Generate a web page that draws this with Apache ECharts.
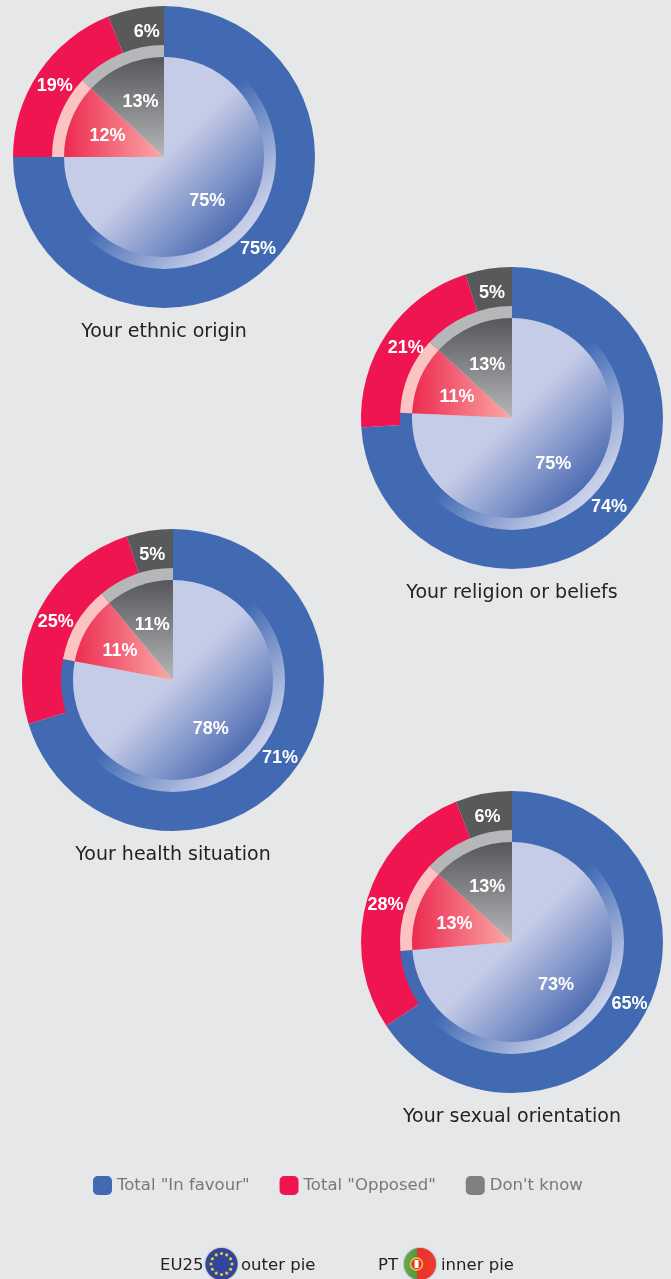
<!DOCTYPE html>
<html>
<head>
<meta charset="utf-8">
<title>Pies</title>
<script src="https://cdn.jsdelivr.net/npm/echarts@6/dist/echarts.min.js"></script>
<style>
  html, body { margin: 0; padding: 0; background: #e5e7e9; }
  #chart { width: 671px; height: 1279px; }
</style>
</head>
<body>
<div id="chart"></div>
<script>
const categories = ['Total "In favour"', 'Total "Opposed"', "Don't know"];
const topics = ['Your ethnic origin', 'Your religion or beliefs', 'Your health situation', 'Your sexual orientation'];
const outerEU25 = [
  [75, 19, 6],
  [74, 21, 5],
  [71, 25, 5],
  [65, 28, 6]
];
const innerPT = [
  [75, 12, 13],
  [75, 11, 13],
  [78, 11, 11],
  [73, 13, 13]
];

const centers = [[164, 157], [512, 418], [173, 680], [512, 942]];
// the labels were placed by hand in the original, nudge them off the slice bisector
const outerNudge = [
  [[-1, -3], [2, 5], [8, 7]],
  [[-1, -3], [5, 6], [1, 8]],
  [[-1, -2], [2, 4], [0, 8]],
  [[-1, -1], [2, 3], [1, 7]]
];
const innerNudge = [
  [[-2, -1], [3, 3], [2, 4]],
  [[-3, 0], [4, 4], [1, 6]],
  [[-3, 0], [2, 4], [1, 5]],
  [[-3, 0], [3, 3], [1, 4]]
];
const outerColors = ['#416ab3', '#ef1551', '#58595b'];
const legendColors = ['#416ab3', '#ef1551', '#808082'];
const clear = ['rgba(0,0,0,0)', 'rgba(0,0,0,0)', 'rgba(0,0,0,0)'];
const labelFont = { color: '#fff', fontSize: 18, fontWeight: 'bold', fontFamily: '"Liberation Sans", Arial, sans-serif' };
const textFont = '"DejaVu Sans", sans-serif';

// gradients are in canvas pixels so they do not depend on the slice's bounding box
function grad(x, y, x2, y2, from, to) {
  return {
    type: 'linear', global: true, x: x, y: y, x2: x2, y2: y2,
    colorStops: [{ offset: 0, color: from }, { offset: 1, color: to }]
  };
}

function innerColors(c) {
  return [
    grad(c[0], c[1], c[0] + 72, c[1] + 72, '#c5cce8', '#4c6bb2'),
    grad(c[0] - 100, c[1], c[0], c[1], '#ec2a50', '#fbaaa7'),
    grad(c[0], c[1] - 100, c[0], c[1], '#56575a', '#b5b6b8')
  ];
}

function ringColors(c) {
  return [
    grad(c[0], c[1], c[0] + 75, c[1] + 75, '#416ab3', '#c8cfe9'),
    '#fcc3c3',
    '#b5b7b9'
  ];
}

function slices(values, colors, nudge) {
  return values.map(function (v, i) {
    const d = { name: categories[i], value: v, itemStyle: { color: colors[i] } };
    if (nudge) d.label = { offset: nudge[i] };
    return d;
  });
}

const series = [];
centers.forEach(function (c, k) {
  const base = { type: 'pie', center: c, startAngle: 90, clockwise: true, silent: true, animation: false, labelLine: { show: false } };
  const noLabel = { label: { show: false } };
  // each layer runs under the next one, otherwise the edges leave a thin seam
  series.push(Object.assign({}, base, noLabel, { radius: [100, 151], data: slices(outerEU25[k], outerColors) }));
  series.push(Object.assign({}, base, noLabel, { radius: [90, 112], data: slices(innerPT[k], ringColors(c)) }));
  series.push(Object.assign({}, base, noLabel, { radius: [0, 100], data: slices(innerPT[k], innerColors(c)) }));
  // see-through copies, only there to carry the labels at the right radius
  series.push(Object.assign({}, base, {
    radius: [112, 151],
    data: slices(outerEU25[k], clear, outerNudge[k]),
    label: Object.assign({ position: 'inside', formatter: '{c}%' }, labelFont)
  }));
  series.push(Object.assign({}, base, {
    radius: [22, 100],
    data: slices(innerPT[k], clear, innerNudge[k]),
    label: Object.assign({ position: 'inside', formatter: '{c}%' }, labelFont)
  }));
});

const titles = topics.map(function (t, k) {
  return {
    text: t,
    left: centers[k][0],
    top: centers[k][1] + 166,
    padding: 0,
    textAlign: 'center',
    textStyle: { color: '#222', fontSize: 19, fontWeight: 'normal', fontFamily: textFont }
  };
});

function footText(x, text) {
  return { type: 'text', left: x, top: 1257, z: 5, style: { text: text, fill: '#222', font: '16.5px ' + textFont } };
}

// little round flags in the key line
const euStars = [];
for (let i = 0; i < 12; i++) {
  const a = i * Math.PI / 6;
  euStars.push({
    type: 'circle', z: 7, shape: { cx: 221.5 + 10.5 * Math.cos(a), cy: 1264 + 10.5 * Math.sin(a), r: 1.6 },
    style: { fill: '#eccb30' }
  });
}

const ptFill = {
  type: 'linear', x: 0, y: 0, x2: 1, y2: 0,
  colorStops: [
    { offset: 0, color: '#6aa84f' }, { offset: 0.42, color: '#4f9a45' },
    { offset: 0.42, color: '#e8322c' }, { offset: 1, color: '#ee3a2e' }
  ]
};

const flags = [
  { type: 'circle', z: 6, shape: { cx: 221.5, cy: 1264, r: 16 }, style: { fill: '#2f469c', shadowBlur: 2, shadowColor: '#777' } }
].concat(euStars, [
  { type: 'circle', z: 6, shape: { cx: 420, cy: 1264, r: 16 }, style: { fill: ptFill, shadowBlur: 2, shadowColor: '#777' } },
  { type: 'circle', z: 7, shape: { cx: 416.5, cy: 1264, r: 6 }, style: { fill: '#e8322c', stroke: '#f0c93a', lineWidth: 1.5 } },
  { type: 'rect', z: 7, shape: { x: 414.5, y: 1260, width: 4, height: 8 }, style: { fill: '#fff' } }
]);

const chart = echarts.init(document.getElementById('chart'), null, { renderer: 'canvas' });
chart.setOption({
  backgroundColor: '#e5e7e9',
  animation: false,
  title: titles,
  legend: {
    left: 93,
    top: 1176,
    padding: 0,
    itemWidth: 19,
    itemHeight: 19,
    itemGap: 30,
    selectedMode: false,
    icon: 'roundRect',
    textStyle: { color: '#77787a', fontSize: 16.5, fontFamily: textFont },
    data: categories.map(function (n, i) {
      return { name: n, itemStyle: { color: legendColors[i] } };
    })
  },
  series: series,
  graphic: [
    footText(160, 'EU25'),
    footText(241, 'outer pie'),
    footText(378, 'PT'),
    footText(441, 'inner pie')
  ].concat(flags)
});
window.addEventListener('resize', chart.resize);
</script>
</body>
</html>
